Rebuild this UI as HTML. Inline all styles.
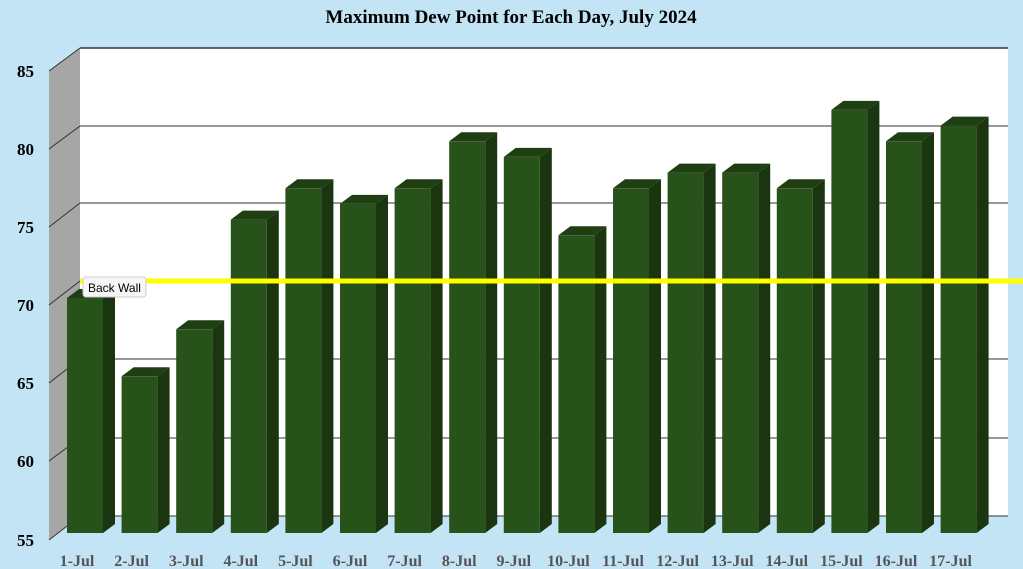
<!DOCTYPE html>
<html><head><meta charset="utf-8"><style>
body{margin:0;background:#c2e4f4;}
svg{display:block}
</style></head><body>
<svg width="1023" height="569" viewBox="0 0 1023 569" xmlns="http://www.w3.org/2000/svg">
<rect width="1023" height="569" fill="#c2e4f4"/>
<text x="511" y="23" text-anchor="middle" font-family="Liberation Serif, serif" font-weight="bold" font-size="19">Maximum Dew Point for Each Day, July 2024</text>
<rect x="80" y="48" width="928" height="468" fill="#fff"/>
<line x1="80" y1="48" x2="1008" y2="48" stroke="#333" stroke-width="1.5"/>
<polygon points="49,71 80,48 80,516 49,540" fill="#a6a6a6"/>
<g stroke="#333" stroke-width="1">
<line x1="80" y1="126" x2="1008" y2="126"/><line x1="49" y1="149" x2="80" y2="126"/>
<line x1="80" y1="203" x2="1008" y2="203"/><line x1="49" y1="227" x2="80" y2="203"/>
<line x1="80" y1="281" x2="1008" y2="281"/><line x1="49" y1="305" x2="80" y2="281"/>
<line x1="80" y1="359" x2="1008" y2="359"/><line x1="49" y1="383" x2="80" y2="359"/>
<line x1="80" y1="438" x2="1008" y2="438"/><line x1="49" y1="461" x2="80" y2="438"/>
<line x1="80" y1="516" x2="1008" y2="516"/><line x1="49" y1="540" x2="80" y2="516"/>
<line x1="49" y1="71" x2="80" y2="48"/>
</g>
<g font-family="Liberation Serif, serif" font-weight="bold" font-size="17" text-anchor="end">
<text x="34" y="77">85</text><text x="34" y="155">80</text><text x="34" y="233">75</text>
<text x="34" y="311">70</text><text x="34" y="389">65</text><text x="34" y="467">60</text><text x="34" y="546">55</text>
</g>

<g transform="translate(67,0)"><polygon points="0,298 12,289 48,289 36,298" fill="#1f3f12"/><polygon points="36,298 48,289 48,524 36,533" fill="#1b3510"/><rect x="0" y="298" width="36" height="235" fill="#275219"/></g>
<g transform="translate(121.6,0)"><polygon points="0,376.3 12,367.3 48,367.3 36,376.3" fill="#1f3f12"/><polygon points="36,376.3 48,367.3 48,524 36,533" fill="#1b3510"/><rect x="0" y="376.3" width="36" height="156.7" fill="#275219"/></g>
<g transform="translate(176.2,0)"><polygon points="0,329.3 12,320.3 48,320.3 36,329.3" fill="#1f3f12"/><polygon points="36,329.3 48,320.3 48,524 36,533" fill="#1b3510"/><rect x="0" y="329.3" width="36" height="203.7" fill="#275219"/></g>
<g transform="translate(230.8,0)"><polygon points="0,219.6 12,210.6 48,210.6 36,219.6" fill="#1f3f12"/><polygon points="36,219.6 48,210.6 48,524 36,533" fill="#1b3510"/><rect x="0" y="219.6" width="36" height="313.4" fill="#275219"/></g>
<g transform="translate(285.4,0)"><polygon points="0,188.3 12,179.3 48,179.3 36,188.3" fill="#1f3f12"/><polygon points="36,188.3 48,179.3 48,524 36,533" fill="#1b3510"/><rect x="0" y="188.3" width="36" height="344.7" fill="#275219"/></g>
<g transform="translate(340,0)"><polygon points="0,203.9 12,194.9 48,194.9 36,203.9" fill="#1f3f12"/><polygon points="36,203.9 48,194.9 48,524 36,533" fill="#1b3510"/><rect x="0" y="203.9" width="36" height="329.1" fill="#275219"/></g>
<g transform="translate(394.6,0)"><polygon points="0,188.3 12,179.3 48,179.3 36,188.3" fill="#1f3f12"/><polygon points="36,188.3 48,179.3 48,524 36,533" fill="#1b3510"/><rect x="0" y="188.3" width="36" height="344.7" fill="#275219"/></g>
<g transform="translate(449.2,0)"><polygon points="0,141.3 12,132.3 48,132.3 36,141.3" fill="#1f3f12"/><polygon points="36,141.3 48,132.3 48,524 36,533" fill="#1b3510"/><rect x="0" y="141.3" width="36" height="391.7" fill="#275219"/></g>
<g transform="translate(503.8,0)"><polygon points="0,156.9 12,147.9 48,147.9 36,156.9" fill="#1f3f12"/><polygon points="36,156.9 48,147.9 48,524 36,533" fill="#1b3510"/><rect x="0" y="156.9" width="36" height="376.1" fill="#275219"/></g>
<g transform="translate(558.4,0)"><polygon points="0,235.3 12,226.3 48,226.3 36,235.3" fill="#1f3f12"/><polygon points="36,235.3 48,226.3 48,524 36,533" fill="#1b3510"/><rect x="0" y="235.3" width="36" height="297.7" fill="#275219"/></g>
<g transform="translate(613,0)"><polygon points="0,188.3 12,179.3 48,179.3 36,188.3" fill="#1f3f12"/><polygon points="36,188.3 48,179.3 48,524 36,533" fill="#1b3510"/><rect x="0" y="188.3" width="36" height="344.7" fill="#275219"/></g>
<g transform="translate(667.6,0)"><polygon points="0,172.6 12,163.6 48,163.6 36,172.6" fill="#1f3f12"/><polygon points="36,172.6 48,163.6 48,524 36,533" fill="#1b3510"/><rect x="0" y="172.6" width="36" height="360.4" fill="#275219"/></g>
<g transform="translate(722.2,0)"><polygon points="0,172.6 12,163.6 48,163.6 36,172.6" fill="#1f3f12"/><polygon points="36,172.6 48,163.6 48,524 36,533" fill="#1b3510"/><rect x="0" y="172.6" width="36" height="360.4" fill="#275219"/></g>
<g transform="translate(776.8,0)"><polygon points="0,188.3 12,179.3 48,179.3 36,188.3" fill="#1f3f12"/><polygon points="36,188.3 48,179.3 48,524 36,533" fill="#1b3510"/><rect x="0" y="188.3" width="36" height="344.7" fill="#275219"/></g>
<g transform="translate(831.4,0)"><polygon points="0,109.9 12,100.9 48,100.9 36,109.9" fill="#1f3f12"/><polygon points="36,109.9 48,100.9 48,524 36,533" fill="#1b3510"/><rect x="0" y="109.9" width="36" height="423.1" fill="#275219"/></g>
<g transform="translate(886,0)"><polygon points="0,141.3 12,132.3 48,132.3 36,141.3" fill="#1f3f12"/><polygon points="36,141.3 48,132.3 48,524 36,533" fill="#1b3510"/><rect x="0" y="141.3" width="36" height="391.7" fill="#275219"/></g>
<g transform="translate(940.6,0)"><polygon points="0,125.6 12,116.6 48,116.6 36,125.6" fill="#1f3f12"/><polygon points="36,125.6 48,116.6 48,524 36,533" fill="#1b3510"/><rect x="0" y="125.6" width="36" height="407.4" fill="#275219"/></g>

<line x1="80" y1="281" x2="1023" y2="281" stroke="#ffff00" stroke-width="5"/>

<g font-family="Liberation Serif, serif" font-weight="bold" font-size="16" fill="#555" text-anchor="middle">
<text x="77" y="566">1-Jul</text><text x="131.6" y="566">2-Jul</text><text x="186.2" y="566">3-Jul</text>
<text x="240.8" y="566">4-Jul</text><text x="295.4" y="566">5-Jul</text><text x="350" y="566">6-Jul</text>
<text x="404.6" y="566">7-Jul</text><text x="459.2" y="566">8-Jul</text><text x="513.8" y="566">9-Jul</text>
<text x="568.4" y="566">10-Jul</text><text x="623" y="566">11-Jul</text><text x="677.6" y="566">12-Jul</text>
<text x="732.2" y="566">13-Jul</text><text x="786.8" y="566">14-Jul</text><text x="841.4" y="566">15-Jul</text>
<text x="896" y="566">16-Jul</text><text x="950.6" y="566">17-Jul</text>
</g>
<rect x="83" y="277" width="63" height="20" rx="3" fill="#f6f6f6" stroke="#ccc"/>
<text x="88" y="292" font-family="Liberation Sans, sans-serif" font-size="12">Back Wall</text>
</svg>
</body></html>
